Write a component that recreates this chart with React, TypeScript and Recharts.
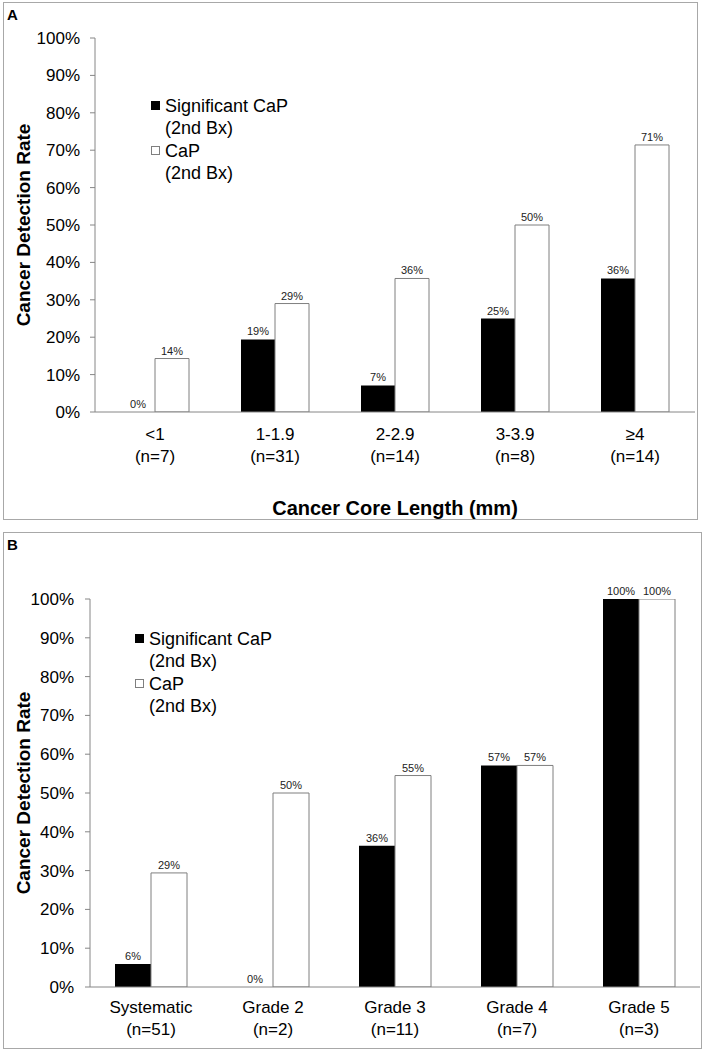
import { BarChart, Bar, XAxis, YAxis, Legend, LabelList, Label } from 'recharts';

const FONT = '"Liberation Sans", Arial, Helvetica, sans-serif';
const AXIS_GRAY = '#868686';

// Panel A: cancer core length on first biopsy
const lengthGroups = ['<1', '1-1.9', '2-2.9', '3-3.9', '≥4'];
const lengthCounts = ['(n=7)', '(n=31)', '(n=14)', '(n=8)', '(n=14)'];
const lengthSignificant = [0, 19.4, 7.1, 25, 35.7];
const lengthAny = [14.3, 29.0, 35.7, 50, 71.4];

// Panel B: Gleason grade on first biopsy
const gradeGroups = ['Systematic', 'Grade 2', 'Grade 3', 'Grade 4', 'Grade 5'];
const gradeCounts = ['(n=51)', '(n=2)', '(n=11)', '(n=7)', '(n=3)'];
const gradeSignificant = [5.9, 0, 36.4, 57.1, 100];
const gradeAny = [29.4, 50, 54.5, 57.1, 100];

const percentTicks = [0, 10, 20, 30, 40, 50, 60, 70, 80, 90, 100];
const boundaryTicks = [0, 1, 2, 3, 4, 5];

const SERIES = [
  { key: 'sig', name: 'Significant CaP (2nd Bx)', lines: ['Significant CaP', '(2nd Bx)'], fill: '#000000', stroke: '#000000' },
  { key: 'any', name: 'CaP (2nd Bx)', lines: ['CaP', '(2nd Bx)'], fill: '#ffffff', stroke: '#7f7f7f' },
];

function buildRows(groups: string[], counts: string[], sig: number[], any: number[]) {
  return groups.map((name, i) => ({ name, count: counts[i], sig: sig[i], any: any[i] }));
}

const fmtPct = (v: any) => `${Math.round(Number(v))}%`;

// legend keeps series order (recharts sorts by name otherwise)
function renderLegend() {
  return (
    <div style={{ fontFamily: FONT, fontSize: 18, lineHeight: '22px', color: '#000' }}>
      {SERIES.map((s) => (
        <div key={s.key} style={{ display: 'flex', alignItems: 'flex-start', marginBottom: 1 }}>
          <span
            style={{
              display: 'inline-block',
              width: 9,
              height: 9,
              marginTop: 6,
              marginRight: 5,
              boxSizing: 'border-box',
              background: s.fill,
              border: `1px solid ${s.stroke}`,
            }}
          />
          <span style={{ whiteSpace: 'nowrap' }}>
            {s.lines[0]}
            <br />
            {s.lines[1]}
          </span>
        </div>
      ))}
    </div>
  );
}

interface PanelProps {
  letter: string;
  top: number;
  groups: string[];
  counts: string[];
  sig: number[];
  any: number[];
  margin: { top: number; right: number; bottom: number; left: number };
  yWidth: number;
  yTitleOffset: number;
  yTickMargin: number;
  catHeight: number;
  tickDy: number;
  barSize: number;
  legendPos: { left: number; top: number };
  xTitle?: string;
  border: { left: number; top: number; width: number; height: number };
}

function Panel(p: PanelProps) {
  const data = buildRows(p.groups, p.counts, p.sig, p.any);

  const renderTick = (t: any) => {
    const row = data.find((d) => d.name === t.payload.value);
    return (
      <text x={t.x} y={t.y} textAnchor="middle" fill="#000" fontSize={17} fontFamily={FONT}>
        <tspan x={t.x} dy={p.tickDy}>{t.payload.value}</tspan>
        <tspan x={t.x} dy={21.5}>{row ? row.count : ''}</tspan>
      </text>
    );
  };

  return (
    <>
      <div
        style={{
          position: 'absolute',
          left: p.border.left,
          top: p.border.top,
          width: p.border.width,
          height: p.border.height,
          border: '1px solid #a8a8a8',
          boxSizing: 'border-box',
        }}
      />
      <div
        style={{
          position: 'absolute',
          left: 7,
          top: p.top + 7,
          fontFamily: FONT,
          fontWeight: 'bold',
          fontSize: 15,
          lineHeight: '15px',
          color: '#000',
        }}
      >
        {p.letter}
      </div>
      <div style={{ position: 'absolute', left: 0, top: p.top, fontFamily: FONT }}>
        <BarChart width={704} height={520} data={data} margin={p.margin} barGap={0}>
          <XAxis
            xAxisId="a"
            type="number"
            domain={[0, 5]}
            ticks={boundaryTicks}
            interval={0}
            allowDataOverflow
            tick={false}
            tickSize={6}
            height={1}
            stroke={AXIS_GRAY}
          />
          <XAxis
            xAxisId="b"
            dataKey="name"
            interval={0}
            axisLine={false}
            tickLine={false}
            tickSize={0}
            tickMargin={0}
            height={p.catHeight}
            tick={renderTick}
          >
            {p.xTitle && (
              <Label
                value={p.xTitle}
                position="insideBottom"
                offset={2}
                style={{ fontWeight: 'bold', fontSize: 20, fill: '#000', fontFamily: FONT }}
              />
            )}
          </XAxis>
          <YAxis
            domain={[0, 100]}
            ticks={percentTicks}
            interval={0}
            allowDataOverflow
            tickFormatter={(v: number) => `${v}%`}
            width={p.yWidth}
            tickSize={5}
            tickMargin={p.yTickMargin}
            stroke={AXIS_GRAY}
            tick={{ fill: '#000', fontSize: 17, fontFamily: FONT }}
          >
            <Label
              value="Cancer Detection Rate"
              angle={-90}
              position="insideLeft"
              offset={p.yTitleOffset}
              style={{ textAnchor: 'middle', fontWeight: 'bold', fontSize: 19, fill: '#000', fontFamily: FONT }}
            />
          </YAxis>
          <Legend
            layout="vertical"
            align="center"
            verticalAlign="middle"
            wrapperStyle={{ left: p.legendPos.left, top: p.legendPos.top, width: 'auto' }}
            content={renderLegend}
          />
          {SERIES.map((s) => (
            <Bar
              key={s.key}
              xAxisId="b"
              dataKey={s.key}
              name={s.name}
              fill={s.fill}
              stroke={s.key === 'any' ? s.stroke : 'none'}
              strokeWidth={1}
              barSize={p.barSize}
              minPointSize={0.01}
              isAnimationActive={false}
            >
              <LabelList
                dataKey={s.key}
                position="top"
                offset={4}
                formatter={fmtPct}
                fontSize={11}
                fill="#222"
                stroke="none"
                fontFamily={FONT}
                style={{ fill: '#222' }}
              />
            </Bar>
          ))}
        </BarChart>
      </div>
    </>
  );
}

export default function App() {
  return (
    <div style={{ position: 'absolute', left: 0, top: 0, width: 704, height: 1050, background: '#fff' }}>
      <Panel
        letter="A"
        top={0}
        groups={lengthGroups}
        counts={lengthCounts}
        sig={lengthSignificant}
        any={lengthAny}
        margin={{ top: 38, right: 9, bottom: 3, left: 5 }}
        yWidth={90}
        yTitleOffset={18}
        yTickMargin={10}
        catHeight={104}
        tickDy={27}
        barSize={34}
        legendPos={{ left: 151, top: 95 }}
        xTitle="Cancer Core Length (mm)"
        border={{ left: 3, top: 2, width: 695, height: 518 }}
      />
      <Panel
        letter="B"
        top={530}
        groups={gradeGroups}
        counts={gradeCounts}
        sig={gradeSignificant}
        any={gradeAny}
        margin={{ top: 69, right: 4, bottom: 2, left: 5 }}
        yWidth={85}
        yTitleOffset={18}
        yTickMargin={11}
        catHeight={60}
        tickDy={25}
        barSize={36}
        legendPos={{ left: 135, top: 98 }}
        border={{ left: 3, top: 532, width: 699, height: 517 }}
      />
    </div>
  );
}
